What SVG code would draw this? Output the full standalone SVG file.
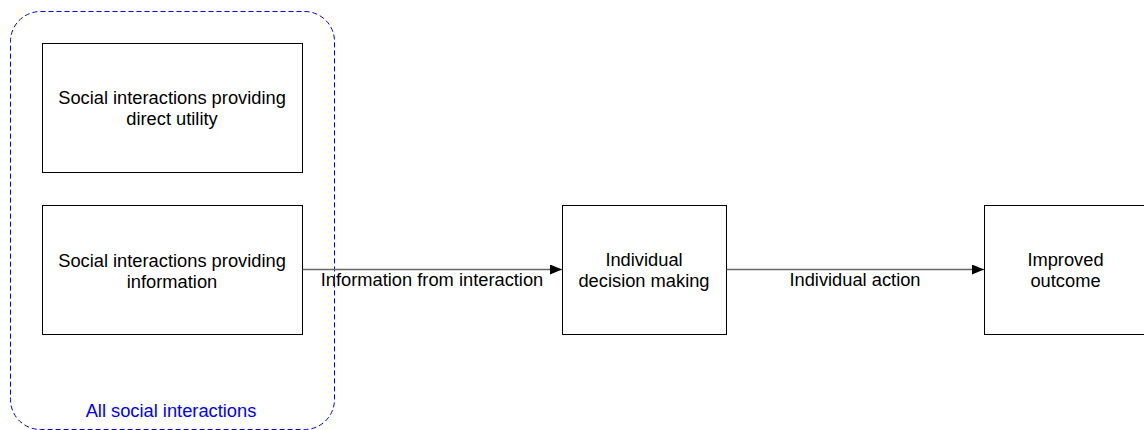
<svg xmlns="http://www.w3.org/2000/svg" width="1144" height="430" viewBox="0 0 1144 430">
<style>
.box{fill:#fff;stroke:#000;stroke-width:1}
.t{font-family:"Liberation Sans",Arial,sans-serif;font-size:18.3px;fill:#000;text-anchor:middle}
.lbl{font-family:"Liberation Sans",Arial,sans-serif;font-size:18.3px;fill:#000;text-anchor:middle}
.edge{stroke:#666;stroke-width:1.5;fill:none}
</style>
<defs>
<marker id="arr" viewBox="0 0 12 10" refX="12" refY="5" markerWidth="12" markerHeight="10" markerUnits="userSpaceOnUse" orient="auto">
<path d="M0,0 L12,5 L0,10 z" fill="#000"/>
</marker>
</defs>
<rect width="1144" height="430" fill="#fff"/>
<g id="group-all">
<rect x="10.5" y="11.5" width="324" height="418" rx="30" ry="30" fill="none" stroke="#0000ff" stroke-width="1" stroke-dasharray="5 3"/>
<text class="t" x="171" y="417" style="fill:#0000ff">All social interactions</text>
</g>
<g id="node-direct">
<rect class="box" x="42.5" y="43.5" width="260" height="129"/>
<text class="t" x="172" y="103.5">Social interactions providing</text>
<text class="t" x="172" y="124.5">direct utility</text>
</g>
<g id="node-info">
<rect class="box" x="42.5" y="205.5" width="260" height="129"/>
<text class="t" x="172" y="266.5">Social interactions providing</text>
<text class="t" x="172" y="287.5">information</text>
</g>
<g id="node-decision">
<rect class="box" x="562.5" y="205.5" width="164" height="129"/>
<text class="t" x="644" y="266">Individual</text>
<text class="t" x="644" y="286.5">decision making</text>
</g>
<g id="node-outcome">
<rect class="box" x="984.5" y="205.5" width="164" height="129"/>
<text class="t" x="1065.5" y="266">Improved</text>
<text class="t" x="1065.5" y="286.5">outcome</text>
</g>
<g id="connectors">
<line class="edge" x1="302.5" y1="269.5" x2="562" y2="269.5" marker-end="url(#arr)"/>
<text class="lbl" x="432" y="286">Information from interaction</text>
<line class="edge" x1="726.5" y1="269.5" x2="984" y2="269.5" marker-end="url(#arr)"/>
<text class="lbl" x="855" y="286">Individual action</text>
</g>
</svg>
